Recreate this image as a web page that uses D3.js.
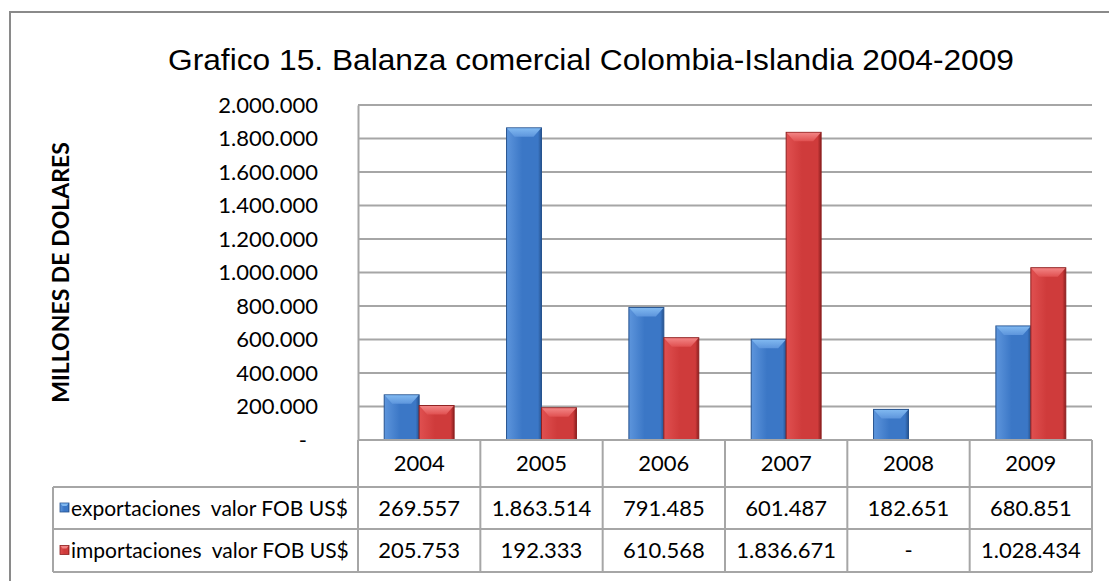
<!DOCTYPE html>
<html>
<head>
<meta charset="utf-8">
<script src="https://cdn.jsdelivr.net/npm/d3@7"></script>
<style>
  body { margin: 0; background: #fff; }
  text { font-family: Lato, "Open Sans", sans-serif; fill: #000; }
</style>
</head>
<body>
<div id="wrapper"></div>
<script>
const years = ["2004", "2005", "2006", "2007", "2008", "2009"] ;
const seriesNames = ["exportaciones  valor FOB US$", "importaciones  valor FOB US$"] ;
const exportaciones = [269557, 1863514, 791485, 601487, 182651, 680851] ;
const importaciones = [205753, 192333, 610568, 1836671, null, 1028434] ;
const yTicks = [0, 200000, 400000, 600000, 800000, 1000000, 1200000, 1400000, 1600000, 1800000, 2000000] ;
const titleText = "Grafico 15. Balanza comercial Colombia-Islandia 2004-2009" ;
const yTitle = "MILLONES DE DOLARES" ;

const series = [
  {key: "exp", name: seriesNames[0], values: exportaciones, base: "#3b77c6", light: "#5d95dc", dark: "#26538f", top: "#80b8f0"},
  {key: "imp", name: seriesNames[1], values: importaciones, base: "#cf3b3b", light: "#e05050", dark: "#8e2020", top: "#f28484"}
] ;

const esLocale = d3.formatLocale({decimal: ",", thousands: ".", grouping: [3], currency: ["$", ""]}) ;
const fmt = (v) => (v === null || v === 0) ? "-" : esLocale.format(",d")(v) ;

let dimensions = {
  width: 1109,
  height: 581,
  margin: {top: 105, right: 17, bottom: 141, left: 358}
} ;
dimensions.boundedWidth = dimensions.width - dimensions.margin.left - dimensions.margin.right ;
dimensions.boundedHeight = dimensions.height - dimensions.margin.top - dimensions.margin.bottom ;

const svg = d3.select("#wrapper").append("svg")
  .attr("width", dimensions.width)
  .attr("height", dimensions.height) ;

// outer frame (runs off the right / bottom edge like the original)
svg.append("rect")
  .attr("x", 10).attr("y", 12)
  .attr("width", 1120).attr("height", 600)
  .attr("fill", "none").attr("stroke", "#8a8a8a").attr("stroke-width", 2) ;

// title
svg.append("text")
  .attr("x", 591).attr("y", 70)
  .attr("text-anchor", "middle")
  .attr("textLength", 846)
  .attr("lengthAdjust", "spacingAndGlyphs")
  .style("font-family", "'Liberation Sans', Arial, sans-serif")
  .style("font-size", "30px")
  .text(titleText) ;

// y title
svg.append("text")
  .attr("transform", `translate(69, ${dimensions.margin.top + dimensions.boundedHeight / 2}) rotate(-90)`)
  .attr("text-anchor", "middle")
  .style("font-size", "23px")
  .style("font-weight", "bold")
  .text(yTitle) ;

const bounds = svg.append("g")
  .attr("transform", `translate(${dimensions.margin.left}, ${dimensions.margin.top})`) ;

const xScale = d3.scaleBand()
  .domain(years)
  .range([0, dimensions.boundedWidth])
  .padding(0) ;

const xInner = d3.scaleBand()
  .domain(series.map((s) => s.key))
  .range([0, xScale.bandwidth()])
  .paddingInner(0)
  .paddingOuter(0.75) ;

const yScale = d3.scaleLinear()
  .domain([0, 2000000])
  .range([dimensions.boundedHeight, 0]) ;

// gridlines
const gridColor = "#a6a6a6" ;
bounds.append("g")
  .selectAll("line")
  .data(yTicks)
  .enter().append("line")
    .attr("x1", 0).attr("x2", dimensions.boundedWidth)
    .attr("y1", (d) => yScale(d)).attr("y2", (d) => yScale(d))
    .attr("stroke", gridColor).attr("stroke-width", 2) ;

// y axis
const yAxisGenerator = d3.axisLeft(yScale)
  .tickValues(yTicks)
  .tickSize(0)
  .tickPadding(40)
  .tickFormat(fmt) ;
const yAxis = bounds.append("g").call(yAxisGenerator) ;
yAxis.select(".domain").attr("stroke", gridColor).attr("stroke-width", 2) ;
yAxis.selectAll("text")
  .style("font-family", "Lato, 'Open Sans', sans-serif")
  .style("font-size", "22px")
  .attr("fill", "#000")
  .attr("dx", (d) => d === 0 ? -11 : 0) ;

// gradients
const defs = svg.append("defs") ;
series.forEach((s) => {
  const g = defs.append("linearGradient").attr("id", "grad-" + s.key)
    .attr("x1", "0").attr("x2", "1").attr("y1", "0").attr("y2", "0") ;
  g.append("stop").attr("offset", "0").attr("stop-color", s.light) ;
  g.append("stop").attr("offset", "0.45").attr("stop-color", s.base) ;
  g.append("stop").attr("offset", "0.9").attr("stop-color", s.base) ;
  g.append("stop").attr("offset", "1").attr("stop-color", s.dark) ;
  const t = defs.append("linearGradient").attr("id", "top-" + s.key)
    .attr("x1", "0").attr("x2", "0").attr("y1", "0").attr("y2", "1") ;
  t.append("stop").attr("offset", "0").attr("stop-color", s.top) ;
  t.append("stop").attr("offset", "1").attr("stop-color", s.light) ;
}) ;

// bars
const barData = [] ;
years.forEach((yr, i) => {
  series.forEach((s) => {
    if (s.values[i] !== null) barData.push({year: yr, key: s.key, value: s.values[i], s: s}) ;
  }) ;
}) ;

const barGroups = bounds.selectAll("g.bar")
  .data(barData)
  .enter().append("g")
    .attr("class", "bar") ;

const bx = (d) => xScale(d.year) + xInner(d.key) ;
const bw = xInner.bandwidth() ;

barGroups.append("rect")
  .attr("x", bx)
  .attr("y", (d) => yScale(d.value))
  .attr("width", bw)
  .attr("height", (d) => yScale(0) - yScale(d.value))
  .attr("fill", (d) => "url(#grad-" + d.key + ")")
  .attr("stroke", (d) => d.s.dark)
  .attr("stroke-width", 1) ;

// top bevel
const bevel = 9 ;
barGroups.append("path")
  .attr("d", (d) => {
    const x0 = bx(d), y0 = yScale(d.value) ;
    const h = Math.min(bevel, yScale(0) - y0) ;
    return `M${x0 + 0.5},${y0 + 0.5} L${x0 + bw - 0.5},${y0 + 0.5} L${x0 + bw - 8},${y0 + h} L${x0 + 8},${y0 + h} Z` ;
  })
  .attr("fill", (d) => "url(#top-" + d.key + ")") ;

// data table
const tableColor = "#a6a6a6" ;
const table = svg.append("g") ;
const tTop = dimensions.margin.top + dimensions.boundedHeight ;
const rowH = [47, 42, 43] ;
const rowY = [tTop, tTop + rowH[0], tTop + rowH[0] + rowH[1], tTop + rowH[0] + rowH[1] + rowH[2]] ;
const legendLeft = 53 ;
const tRight = dimensions.margin.left + dimensions.boundedWidth ;

// horizontal lines
[[dimensions.margin.left, rowY[0]], [legendLeft, rowY[1]], [legendLeft, rowY[2]], [legendLeft, rowY[3]]].forEach(([x1, y]) => {
  table.append("line").attr("x1", x1).attr("x2", tRight).attr("y1", y).attr("y2", y)
    .attr("stroke", tableColor).attr("stroke-width", 2) ;
}) ;
// vertical lines
const boundaries = years.map((y) => dimensions.margin.left + xScale(y)).concat([tRight]) ;
table.selectAll("line.v")
  .data(boundaries)
  .enter().append("line")
    .attr("class", "v")
    .attr("x1", (d) => d).attr("x2", (d) => d)
    .attr("y1", rowY[0]).attr("y2", rowY[3])
    .attr("stroke", tableColor).attr("stroke-width", 2) ;
table.append("line").attr("x1", legendLeft).attr("x2", legendLeft)
  .attr("y1", rowY[1]).attr("y2", rowY[3])
  .attr("stroke", tableColor).attr("stroke-width", 2) ;

// header row (years)
table.selectAll("text.yr")
  .data(years)
  .enter().append("text")
    .attr("class", "yr")
    .attr("x", (d) => dimensions.margin.left + xScale(d) + xScale.bandwidth() / 2)
    .attr("y", (rowY[0] + rowY[1]) / 2)
    .attr("dy", "0.36em")
    .attr("text-anchor", "middle")
    .style("font-size", "22px")
    .text((d) => d) ;

// value rows
series.forEach((s, si) => {
  const cy = (rowY[si + 1] + rowY[si + 2]) / 2 ;
  table.selectAll("text.v" + si)
    .data(years)
    .enter().append("text")
      .attr("class", "v" + si)
      .attr("x", (d) => dimensions.margin.left + xScale(d) + xScale.bandwidth() / 2)
      .attr("y", cy)
      .attr("dy", "0.36em")
      .attr("text-anchor", "middle")
      .style("font-size", "22px")
      .text((d, i) => fmt(s.values[i])) ;
  // legend marker
  table.append("rect")
    .attr("x", 60).attr("y", cy - 5)
    .attr("width", 9).attr("height", 9)
    .attr("fill", "url(#grad-" + s.key + ")")
    .attr("stroke", s.dark).attr("stroke-width", 0.8) ;
  table.append("path")
    .attr("d", `M60.5,${cy - 4.5} L68.5,${cy - 4.5} L66.5,${cy - 2} L62.5,${cy - 2} Z`)
    .attr("fill", s.top) ;
  table.append("text")
    .attr("x", 71).attr("y", cy)
    .attr("dy", "0.36em")
    .style("font-size", "21px")
    .style("white-space", "pre")
    .text(s.name) ;
}) ;
</script>
</body>
</html>
